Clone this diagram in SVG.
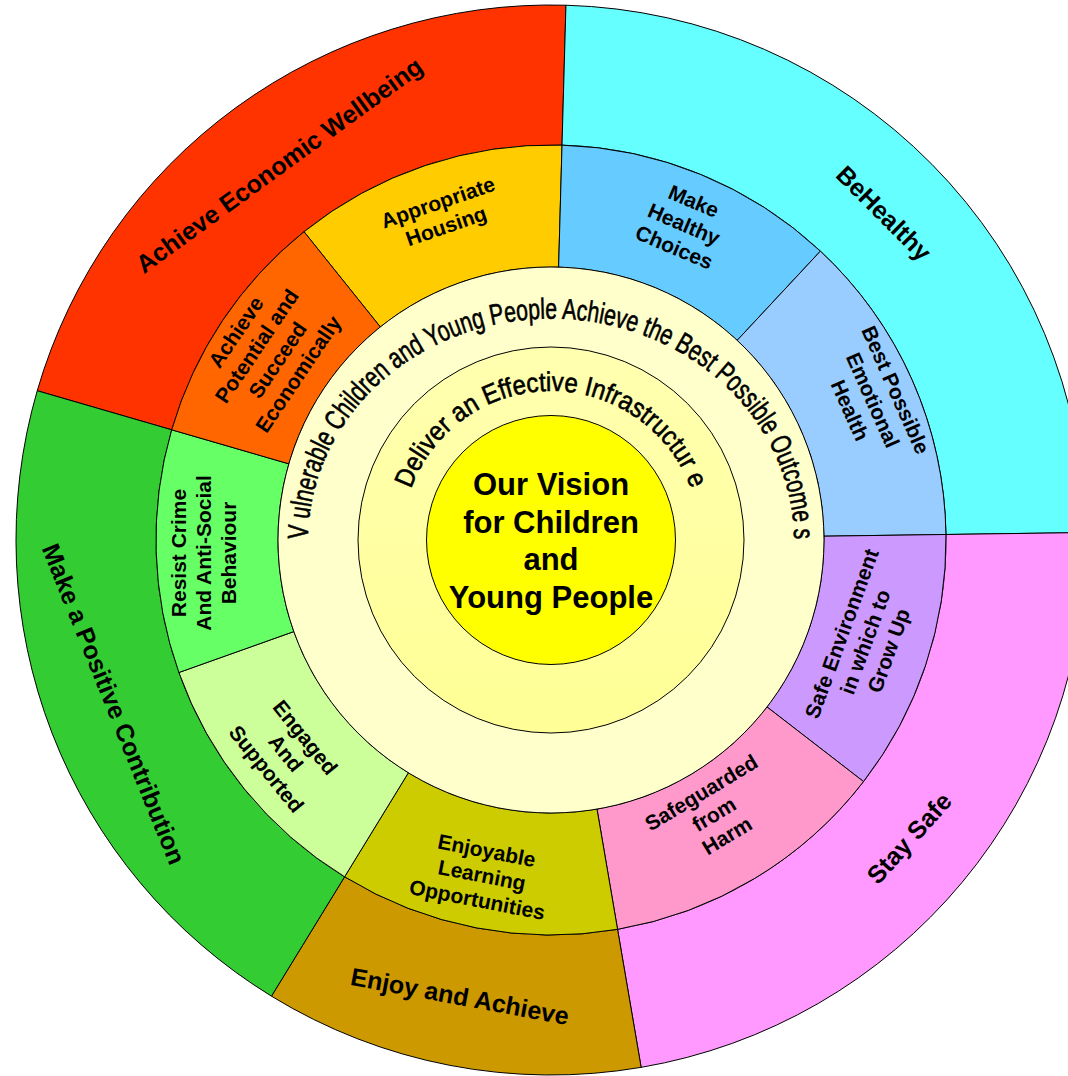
<svg xmlns="http://www.w3.org/2000/svg" width="1068" height="1076" viewBox="0 0 1068 1076">
<style>
.seg{stroke:#000;stroke-width:1}
.lbl{font-family:"Liberation Sans",Arial,Helvetica,sans-serif;font-weight:bold;text-anchor:middle;fill:#000}
.out{font-size:25px}
.mid{font-size:21px}
.cen{font-size:31px}
.arc{font-family:"Liberation Sans",Arial,Helvetica,sans-serif;fill:#000;stroke:#000;stroke-width:0.6}
</style>
<defs>
<linearGradient id="g2" x1="0" y1="0" x2="0" y2="1">
<stop offset="0" stop-color="#FFFFB0"/>
<stop offset="1" stop-color="#FFFF96"/>
</linearGradient>
<path id="arcV" d="M 308.3,551.6 A 243 222 0 1 1 793.7,551.6"/>
<path id="arcD" d="M 402,540 A 149 149 0 0 1 700,540"/>
</defs>
<rect width="1068" height="1076" fill="#FFFFFF"/>

<g id="outer-ring">
<g id="achieve-economic-wellbeing">
<path class="seg" fill="#FF3300" d="M 171.69,429.80 L 37.24,390.74 A 535 535 0 0 1 565.94,5.21 L 562.03,145.15 A 395 395 0 0 0 171.69,429.80 Z"/>
<text class="lbl out" transform="translate(279,165) rotate(-36)"><tspan x="0" y="9">Achieve Economic Wellbeing</tspan></text>
</g>
<g id="be-healthy">
<path class="seg" fill="#66FFFF" d="M 562.03,145.15 L 565.94,5.21 A 535 535 0 0 1 1085.95,532.53 L 945.96,534.49 A 395 395 0 0 0 562.03,145.15 Z"/>
<text class="lbl out" transform="translate(884,213) rotate(45)"><tspan x="0" y="9">BeHealthy</tspan></text>
</g>
<g id="stay-safe">
<path class="seg" fill="#FF99FF" d="M 945.96,534.49 L 1085.95,532.53 A 535 535 0 0 1 641.14,1067.35 L 617.55,929.35 A 395 395 0 0 0 945.96,534.49 Z"/>
<text class="lbl out" transform="translate(909,838) rotate(-48)"><tspan x="0" y="9">Stay Safe</tspan></text>
</g>
<g id="enjoy-and-achieve">
<path class="seg" fill="#CC9900" d="M 617.55,929.35 L 641.14,1067.35 A 535 535 0 0 1 271.46,996.16 L 344.61,876.79 A 395 395 0 0 0 617.55,929.35 Z"/>
<text class="lbl out" transform="translate(460,996) rotate(10.5)"><tspan x="0" y="9">Enjoy and Achieve</tspan></text>
</g>
<g id="make-a-positive-contribution">
<path class="seg" fill="#33CC33" d="M 344.61,876.79 L 271.46,996.16 A 535 535 0 0 1 37.24,390.74 L 171.69,429.80 A 395 395 0 0 0 344.61,876.79 Z"/>
<text class="lbl out" transform="translate(114,704) rotate(68)"><tspan x="0" y="9">Make a Positive Contribution</tspan></text>
</g>
</g>

<g id="middle-ring">
<g id="appropriate-housing">
<path class="seg" fill="#FFCC00" d="M 380.31,326.94 L 304.03,231.73 A 395 395 0 0 1 562.03,145.15 L 558.62,267.11 A 273 273 0 0 0 380.31,326.94 Z"/>
<text class="lbl mid" transform="translate(442,214) rotate(-19)"><tspan x="0" y="-5">Appropriate</tspan><tspan x="0" y="20">Housing</tspan></text>
</g>
<g id="make-healthy-choices">
<path class="seg" fill="#66CCFF" d="M 558.62,267.11 L 562.03,145.15 A 395 395 0 0 1 820.39,251.12 L 737.19,340.34 A 273 273 0 0 0 558.62,267.11 Z"/>
<text class="lbl mid" transform="translate(684,224) rotate(23)"><tspan x="0" y="-17.5">Make</tspan><tspan x="0" y="7.5">Healthy</tspan><tspan x="0" y="32.5">Choices</tspan></text>
</g>
<g id="best-possible-emotional-health">
<path class="seg" fill="#99CCFF" d="M 737.19,340.34 L 820.39,251.12 A 395 395 0 0 1 945.96,534.49 L 823.97,536.19 A 273 273 0 0 0 737.19,340.34 Z"/>
<text class="lbl mid" transform="translate(873,400) rotate(66)"><tspan x="0" y="-17.5">Best Possible</tspan><tspan x="0" y="7.5">Emotional</tspan><tspan x="0" y="32.5">Health</tspan></text>
</g>
<g id="safe-environment">
<path class="seg" fill="#CC99FF" d="M 823.97,536.19 L 945.96,534.49 A 395 395 0 0 1 863.53,781.55 L 767.00,706.95 A 273 273 0 0 0 823.97,536.19 Z"/>
<text class="lbl mid" transform="translate(865,642) rotate(-70)"><tspan x="0" y="-17.5">Safe Environment</tspan><tspan x="0" y="7.5">in which to</tspan><tspan x="0" y="32.5">Grow Up</tspan></text>
</g>
<g id="safeguarded-from-harm">
<path class="seg" fill="#FF99CC" d="M 767.00,706.95 L 863.53,781.55 A 395 395 0 0 1 617.55,929.35 L 597.00,809.10 A 273 273 0 0 0 767.00,706.95 Z"/>
<text class="lbl mid" transform="translate(714,814) rotate(-31)"><tspan x="0" y="-17.5">Safeguarded</tspan><tspan x="0" y="7.5">from</tspan><tspan x="0" y="32.5">Harm</tspan></text>
</g>
<g id="enjoyable-learning-opportunities">
<path class="seg" fill="#CCCC00" d="M 597.00,809.10 L 617.55,929.35 A 395 395 0 0 1 344.61,876.79 L 408.36,772.77 A 273 273 0 0 0 597.00,809.10 Z"/>
<text class="lbl mid" transform="translate(482,875) rotate(11)"><tspan x="0" y="-17.5">Enjoyable</tspan><tspan x="0" y="7.5">Learning</tspan><tspan x="0" y="32.5">Opportunities</tspan></text>
</g>
<g id="engaged-and-supported">
<path class="seg" fill="#CCFF99" d="M 408.36,772.77 L 344.61,876.79 A 395 395 0 0 1 178.89,672.50 L 293.82,631.58 A 273 273 0 0 0 408.36,772.77 Z"/>
<text class="lbl mid" transform="translate(286,753) rotate(51)"><tspan x="0" y="-17.5">Engaged</tspan><tspan x="0" y="7.5">And</tspan><tspan x="0" y="32.5">Supported</tspan></text>
</g>
<g id="resist-crime">
<path class="seg" fill="#66FF66" d="M 293.82,631.58 L 178.89,672.50 A 395 395 0 0 1 171.69,429.80 L 288.84,463.84 A 273 273 0 0 0 293.82,631.58 Z"/>
<text class="lbl mid" transform="translate(203,553) rotate(-90)"><tspan x="0" y="-17.5">Resist Crime</tspan><tspan x="0" y="7.5">And Anti-Social</tspan><tspan x="0" y="32.5">Behaviour</tspan></text>
</g>
<g id="achieve-potential">
<path class="seg" fill="#FF6600" d="M 288.84,463.84 L 171.69,429.80 A 395 395 0 0 1 304.03,231.73 L 380.31,326.94 A 273 273 0 0 0 288.84,463.84 Z"/>
<text class="lbl mid" transform="translate(267,353) rotate(-56)"><tspan x="0" y="-30">Achieve</tspan><tspan x="0" y="-5">Potential and</tspan><tspan x="0" y="20">Succeed</tspan><tspan x="0" y="45">Economically</tspan></text>
</g>
</g>

<g id="vulnerable-ring">
<circle class="seg" cx="551" cy="540" r="273" fill="#FFFFCC"/>
<text class="arc" font-size="29"><textPath href="#arcV" startOffset="50%" text-anchor="middle" textLength="728" lengthAdjust="spacingAndGlyphs">V ulnerable Children and Young People Achieve the Best Possible Outcome s</textPath></text>
</g>

<g id="infrastructure-ring">
<circle class="seg" cx="551" cy="540" r="193" fill="url(#g2)"/>
<text class="arc" font-size="27"><textPath href="#arcD" startOffset="50%" text-anchor="middle" textLength="364" lengthAdjust="spacingAndGlyphs">Deliver an Effective Infrastructur e</textPath></text>
</g>

<g id="vision">
<circle class="seg" cx="551" cy="540" r="124.5" fill="#FFFF00"/>
<text class="lbl cen"><tspan x="551" y="495">Our Vision</tspan><tspan x="551" y="532.5">for Children</tspan><tspan x="551" y="570">and</tspan><tspan x="551" y="607.5">Young People</tspan></text>
</g>

<g id="connectors"></g>
</svg>
